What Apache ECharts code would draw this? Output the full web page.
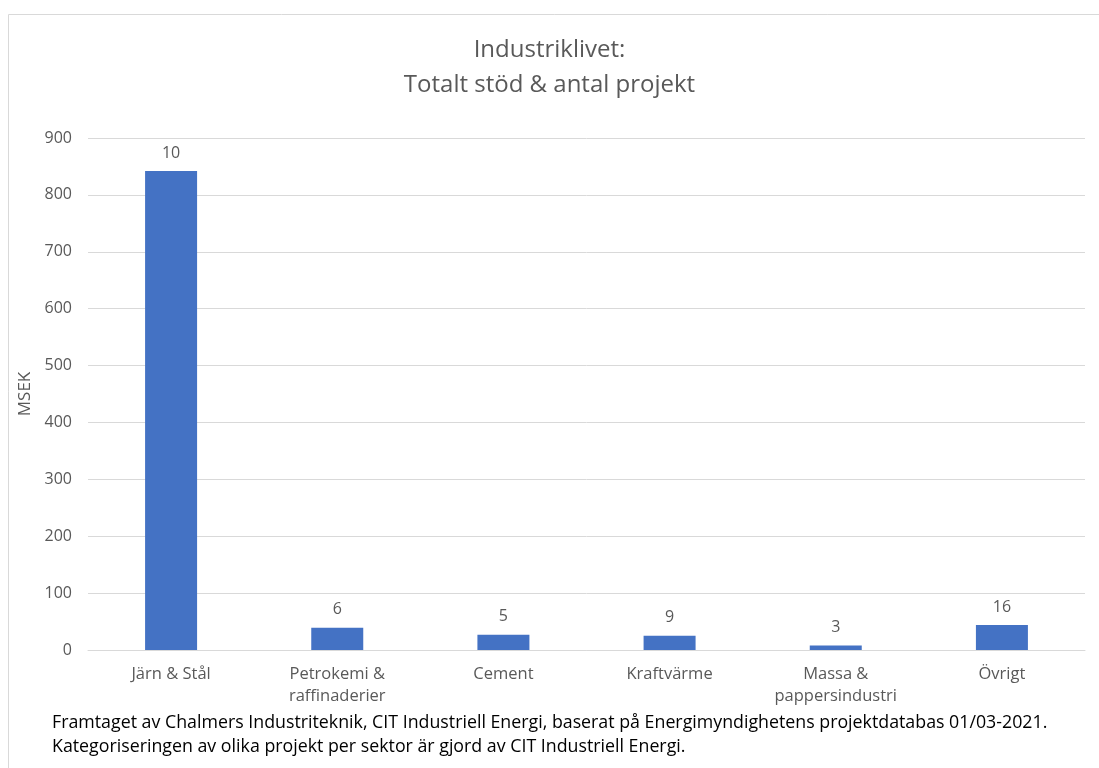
<!DOCTYPE html>
<html>
<head>
<meta charset="utf-8">
<script src="https://cdn.jsdelivr.net/npm/echarts@6/dist/echarts.min.js"></script>
<style>
  html, body { margin: 0; padding: 0; background: #fff; }
  #echart { width: 1099px; height: 768px; }
</style>
</head>
<body>
<div id="echart"></div>
<script>
const sectors = ['Järn & Stål', 'Petrokemi &\nraffinaderier', 'Cement', 'Kraftvärme', 'Massa &\npappersindustri', 'Övrigt'];
const stodMsek = [842, 39, 27, 25, 8, 44];      // totalt stöd, MSEK
const antalProjekt = [10, 6, 5, 9, 3, 16];      // visas som etikett
const yTicks = { min: 0, max: 900, interval: 100 };

const chart = echarts.init(document.getElementById('echart'));
const font = '"Open Sans", "Noto Sans", sans-serif';

const option = {
    animation: false,
    textStyle: { fontFamily: font },
    title: {
        text: 'Industriklivet:\nTotalt stöd & antal projekt',
        left: 'center',
        top: 28,
        textStyle: { fontSize: 24, fontWeight: 'normal', color: '#595959', lineHeight: 35, fontFamily: font }
    },
    grid: { left: 88, right: 14, top: 138, bottom: 118 },
    xAxis: {
        type: 'category',
        data: sectors,
        axisLine: { lineStyle: { color: '#d9d9d9', width: 1 } },
        axisTick: { show: false },
        axisLabel: { color: '#595959', fontSize: 16.5, margin: 13, lineHeight: 22, fontFamily: font }
    },
    yAxis: {
        type: 'value',
        min: yTicks.min,
        max: yTicks.max,
        interval: yTicks.interval,
        name: 'MSEK',
        nameLocation: 'middle',
        nameRotate: 90,
        nameGap: 51,
        nameTextStyle: { color: '#595959', fontSize: 17, fontFamily: font },
        axisLine: { show: false },
        axisTick: { show: false },
        splitLine: { lineStyle: { color: '#d9d9d9', width: 1 } },
        axisLabel: { color: '#595959', fontSize: 16, margin: 16, fontFamily: font }
    },
    series: [{
        type: 'bar',
        data: stodMsek,
        barWidth: 52,
        itemStyle: { color: '#4472c4' },
        label: {
            show: true,
            position: 'top',
            distance: 10,
            color: '#595959',
            fontSize: 16,
            fontFamily: font,
            formatter: p => antalProjekt[p.dataIndex]
        }
    }],
    graphic: [
        {
            type: 'rect',
            shape: { x: 8.5, y: 14.5, width: 1110, height: 800 },
            style: { fill: 'none', stroke: '#d9d9d9', lineWidth: 1 },
            silent: true
        },
        {
            type: 'text',
            left: 52,
            top: 711,
            style: {
                text: 'Framtaget av Chalmers Industriteknik, CIT Industriell Energi, baserat på Energimyndighetens projektdatabas 01/03-2021.\nKategoriseringen av olika projekt per sektor är gjord av CIT Industriell Energi.',
                fill: '#000',
                font: '17.8px ' + font,
                lineHeight: 24
            }
        }
    ]
};

chart.setOption(option);
</script>
</body>
</html>
